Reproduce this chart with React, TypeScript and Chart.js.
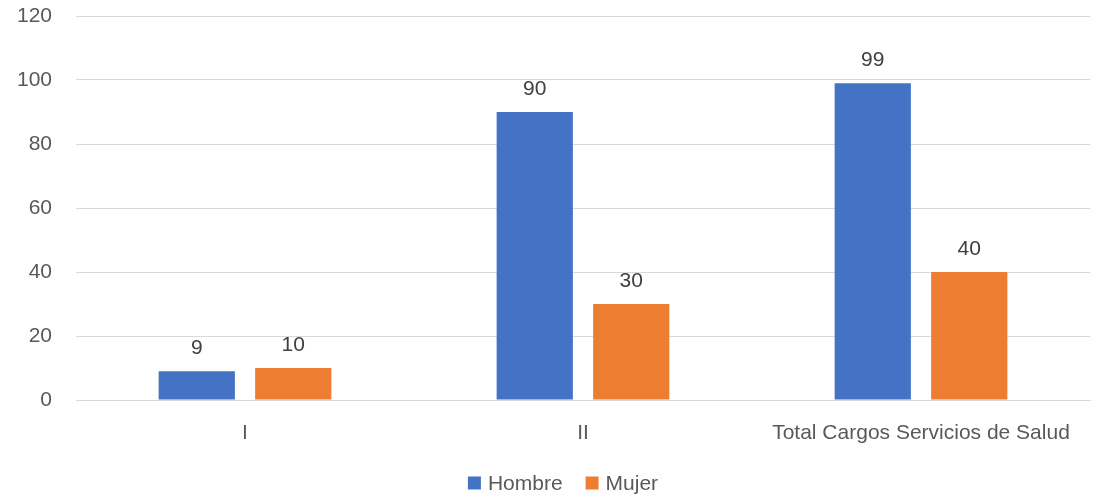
import React, { useEffect, useRef } from "react";
import { Chart, registerables } from "chart.js";

Chart.register(...registerables);

const categories = ["I", "II", "Total Cargos Servicios de Salud"];
const hombre = [9, 90, 99];
const mujer = [10, 30, 40];
const yTicks = [0, 20, 40, 60, 80, 100, 120];

const FONT = "'Liberation Sans', Arial, sans-serif";
const TEXT = "#595959";
const SIZE = 21;

// Draws each bar's value centred above it
const valueLabels = {
  id: "valueLabels",
  afterDatasetsDraw(chart: any) {
    const ctx = chart.ctx;
    ctx.save();
    ctx.font = `${SIZE}px ${FONT}`;
    ctx.fillStyle = "#404040";
    ctx.textAlign = "center";
    ctx.textBaseline = "alphabetic";
    chart.data.datasets.forEach((ds: any, i: number) => {
      const meta = chart.getDatasetMeta(i);
      meta.data.forEach((bar: any, j: number) => {
        ctx.fillText(String(ds.data[j]), bar.x, bar.y - 17);
      });
    });
    ctx.restore();
  },
};

// Centred legend row under the category axis
const bottomLegend = {
  id: "bottomLegend",
  afterDraw(chart: any) {
    const ctx = chart.ctx;
    const box = 13;
    const gapText = 7;
    const gapItem = 23;
    const cy = 483;
    ctx.save();
    ctx.font = `${SIZE}px ${FONT}`;
    ctx.textBaseline = "middle";
    ctx.textAlign = "left";
    const items = chart.data.datasets.map((ds: any) => ({
      label: ds.label,
      color: ds.backgroundColor,
      w: ctx.measureText(ds.label).width,
    }));
    const total = items.reduce((a: number, it: any) => a + box + gapText + it.w, 0) + gapItem * (items.length - 1);
    const mid = (chart.chartArea.left + chart.chartArea.right) / 2 - 20;
    let x = mid - total / 2;
    items.forEach((it: any) => {
      ctx.fillStyle = it.color;
      ctx.fillRect(x, cy - box / 2, box, box);
      x += box + gapText;
      ctx.fillStyle = TEXT;
      ctx.fillText(it.label, x, cy + 1);
      x += it.w + gapItem;
    });
    ctx.restore();
  },
};

export default function App() {
  const ref = useRef<HTMLCanvasElement>(null);
  useEffect(() => {
    const chart = new Chart(ref.current!, {
      type: "bar",
      data: {
        labels: categories,
        datasets: [
          { label: "Hombre", data: hombre, backgroundColor: "#4472C4", categoryPercentage: 0.571, barPercentage: 0.79 },
          { label: "Mujer", data: mujer, backgroundColor: "#ED7D31", categoryPercentage: 0.571, barPercentage: 0.79 },
        ],
      },
      options: {
        animation: false,
        responsive: false,
        layout: { autoPadding: false, padding: { top: 16, right: 12, left: 0, bottom: 0 } },
        plugins: {
          tooltip: { enabled: false },
          legend: { display: false },
        },
        scales: {
          x: {
            grid: { display: false, drawTicks: false },
            border: { color: "#d9d9d9", width: 1 },
            ticks: { color: TEXT, font: { family: FONT, size: SIZE }, padding: 21 },
            afterFit: (s: any) => { s.height = 98; },
          },
          y: {
            min: 0,
            max: 120,
            afterBuildTicks: (s: any) => { s.ticks = yTicks.map((v) => ({ value: v })); },
            grid: { color: "#d9d9d9", lineWidth: 1, drawTicks: false },
            border: { display: false },
            ticks: { color: TEXT, font: { family: FONT, size: SIZE }, padding: 24 },
            afterFit: (s: any) => {
              s.width = 76;
              s.paddingTop = 0;
              s.paddingBottom = 0;
            },
          },
        },
      },
      plugins: [valueLabels, bottomLegend],
    });
    return () => chart.destroy();
  }, []);
  return (
    <div style={{ position: "fixed", left: 0, top: 0, width: 1102, height: 498, background: "#fff" }}>
      <canvas ref={ref} width={1102} height={498} />
    </div>
  );
}
